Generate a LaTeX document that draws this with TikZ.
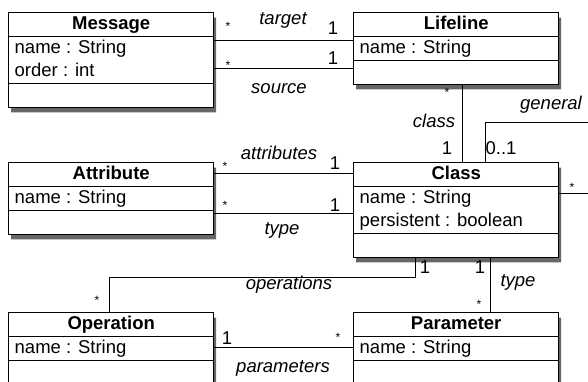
\documentclass[tikz,border=0pt]{standalone}
\usepackage{fontspec}
\setmainfont{Liberation Sans}
\usetikzlibrary{shapes.multipart, shadows}

\newcommand{\rowstrut}{\rule[-6.5pt]{0pt}{22.5pt}}

\tikzset{
  umlclass/.style={rectangle split, rectangle split parts=3, draw, line width=1.4pt,
    fill=white, minimum width=205pt, inner xsep=6pt, inner ysep=0pt, anchor=north west,
    align=left, rectangle split part align={center,left,left},
    drop shadow={shadow xshift=2.5pt, shadow yshift=-5pt, fill=black, opacity=.6},
    font=\fontsize{18.5}{23}\selectfont},
  assoc/.style={draw, line width=1pt},
  lbl/.style={font=\fontsize{18.5}{20}\selectfont\itshape, inner sep=0pt},
  mult/.style={font=\fontsize{18.5}{20}\selectfont, inner sep=0pt},
  star/.style={font=\fontsize{12}{13}\selectfont, inner sep=0pt}
}

\begin{document}
\begin{tikzpicture}[x=1pt, y=-1pt]
\useasboundingbox (0,0) rectangle (588,381);

\begin{scope}[every node/.style={umlclass}]
\node (msg) at (8,12) {\rowstrut\textbf{Message}
  \nodepart{two}\rowstrut name : String\\\rowstrut order : int
  \nodepart{three}\rowstrut};
\node (life) at (353,12) {\rowstrut\textbf{Lifeline}
  \nodepart{two}\rowstrut name : String
  \nodepart{three}\rowstrut};
\node (attr) at (8,162) {\rowstrut\textbf{Attribute}
  \nodepart{two}\rowstrut name : String
  \nodepart{three}\rowstrut};
\node (cls) at (353,162) {\rowstrut\textbf{Class}
  \nodepart{two}\rowstrut name : String\\\rowstrut persistent : boolean
  \nodepart{three}\rowstrut};
\node (op) at (8,312) {\rowstrut\textbf{Operation}
  \nodepart{two}\rowstrut name : String
  \nodepart{three}\rowstrut};
\node (par) at (353,312) {\rowstrut\textbf{Parameter}
  \nodepart{two}\rowstrut name : String
  \nodepart{three}\rowstrut};
\end{scope}

% loose ends of the general association
\coordinate (genend) at (588,122);
\coordinate (subend) at (588,193);

\path[assoc]
([yshift=-28pt]msg.north east) edge ([yshift=-28pt]life.north west)
([yshift=-56pt]msg.north east) edge ([yshift=-56pt]life.north west)
([xshift=109pt]life.south west) edge ([xshift=109pt]cls.north west)
([yshift=-11pt]attr.north east) edge ([yshift=-11pt]cls.north west)
([yshift=-51pt]attr.north east) edge ([yshift=-51pt]cls.north west)
([xshift=137pt]cls.south west) edge ([xshift=137pt]par.north west)
([yshift=-35pt]op.north east) edge ([yshift=-35pt]par.north west)
([yshift=-31pt]cls.north east) edge (subend);

\draw[assoc] ([xshift=132pt]cls.north west) |- (genend);
\draw[assoc] ([xshift=62pt]cls.south west) -- ++(0,19) -| ([xshift=101pt]op.north west);

% role names
\node[lbl] (ltarget) at (283,20) {target};
\node[lbl] (lsource) at (279,89) {source};
\node[lbl] (lclass) at (434,121) {class};
\node[lbl] (lgeneral) at (551,105) {general};
\node[lbl] (lattr) at (279,153) {attributes};
\node[lbl] (ltype) at (282,230) {type};
\node[lbl] (lops) at (289,285) {operations};
\node[lbl] (lptype) at (518,282) {type};
\node[lbl] (lparams) at (283,368) {parameters};

% multiplicities
\node[star] (m1) at (228,26) {*};
\node[mult] (m2) at (333,28) {1};
\node[star] (m3) at (228,65) {*};
\node[mult] (m4) at (333,58) {1};
\node[star] (m5) at (447,92) {*};
\node[mult] (m6) at (447,148) {1};
\node[mult] (m7) at (501,148) {0..1};
\node[star] (m8) at (572,187) {*};
\node[star] (m9) at (225,166) {*};
\node[mult] (m10) at (335,163) {1};
\node[star] (m11) at (225,205) {*};
\node[mult] (m12) at (335,205) {1};
\node[mult] (m13) at (425,267) {1};
\node[mult] (m14) at (480,267) {1};
\node[star] (m15) at (479,304) {*};
\node[star] (m16) at (97,300) {*};
\node[mult] (m17) at (227,338) {1};
\node[star] (m18) at (338,337) {*};
\end{tikzpicture}
\end{document}
